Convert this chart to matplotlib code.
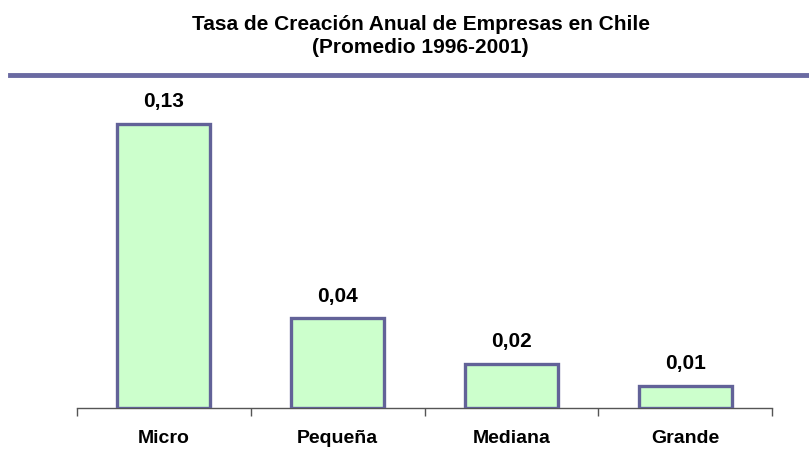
import matplotlib
matplotlib.use("Agg")
import matplotlib.pyplot as plt
from matplotlib.lines import Line2D

categories = ["Micro", "Pequeña", "Mediana", "Grande"]
values = [0.13, 0.041, 0.0203, 0.0101]
value_labels = ["0,13", "0,04", "0,02", "0,01"]
title = "Tasa de Creación Anual de Empresas en Chile\n(Promedio 1996-2001)"

plt.rcParams['font.family'] = ['Liberation Sans', 'DejaVu Sans']

fig = plt.figure(figsize=(8.09, 4.56), dpi=100)
ax = fig.add_axes([77/809, (456-409)/456, (772-77)/809, (409-80)/456])

x = list(range(len(categories)))
bars = ax.bar(x, values, width=0.535, color="#CCFFCC", edgecolor="#626298",
              linewidth=2.4, zorder=3)
for xi, v, lab in zip(x, values, value_labels):
    ax.annotate(lab, (xi, v), xytext=(0, 10), textcoords="offset points",
                ha="center", va="bottom", fontsize=15, fontweight="bold")

ax.set_xlim(-0.5, len(categories) - 0.5)
ax.set_ylim(0, (409-80)/2184)
ax.set_yticks([])
for s in ["top", "right", "left"]:
    ax.spines[s].set_visible(False)
ax.spines["bottom"].set_color("#555555")
ax.spines["bottom"].set_linewidth(1)
ax.set_xticks([i - 0.5 for i in range(len(categories) + 1)])
ax.set_xticklabels([])
ax.tick_params(axis="x", length=6, width=1, color="#555555", direction="out")
for xi, c in zip(x, categories):
    ax.text(xi, -0.0136, c, ha="center", va="center", fontsize=14,
            fontweight="bold", transform=ax.transData)

fig.text(0.52, 1 - 36/456, title, ha="center", va="center", fontsize=15,
         fontweight="bold", linespacing=1.32)
fig.add_artist(Line2D([10/809, 1.0], [1 - 76/456, 1 - 76/456], color="#6A6AA2",
                      linewidth=3.5, transform=fig.transFigure))

fig.savefig("out.png", dpi=100)
